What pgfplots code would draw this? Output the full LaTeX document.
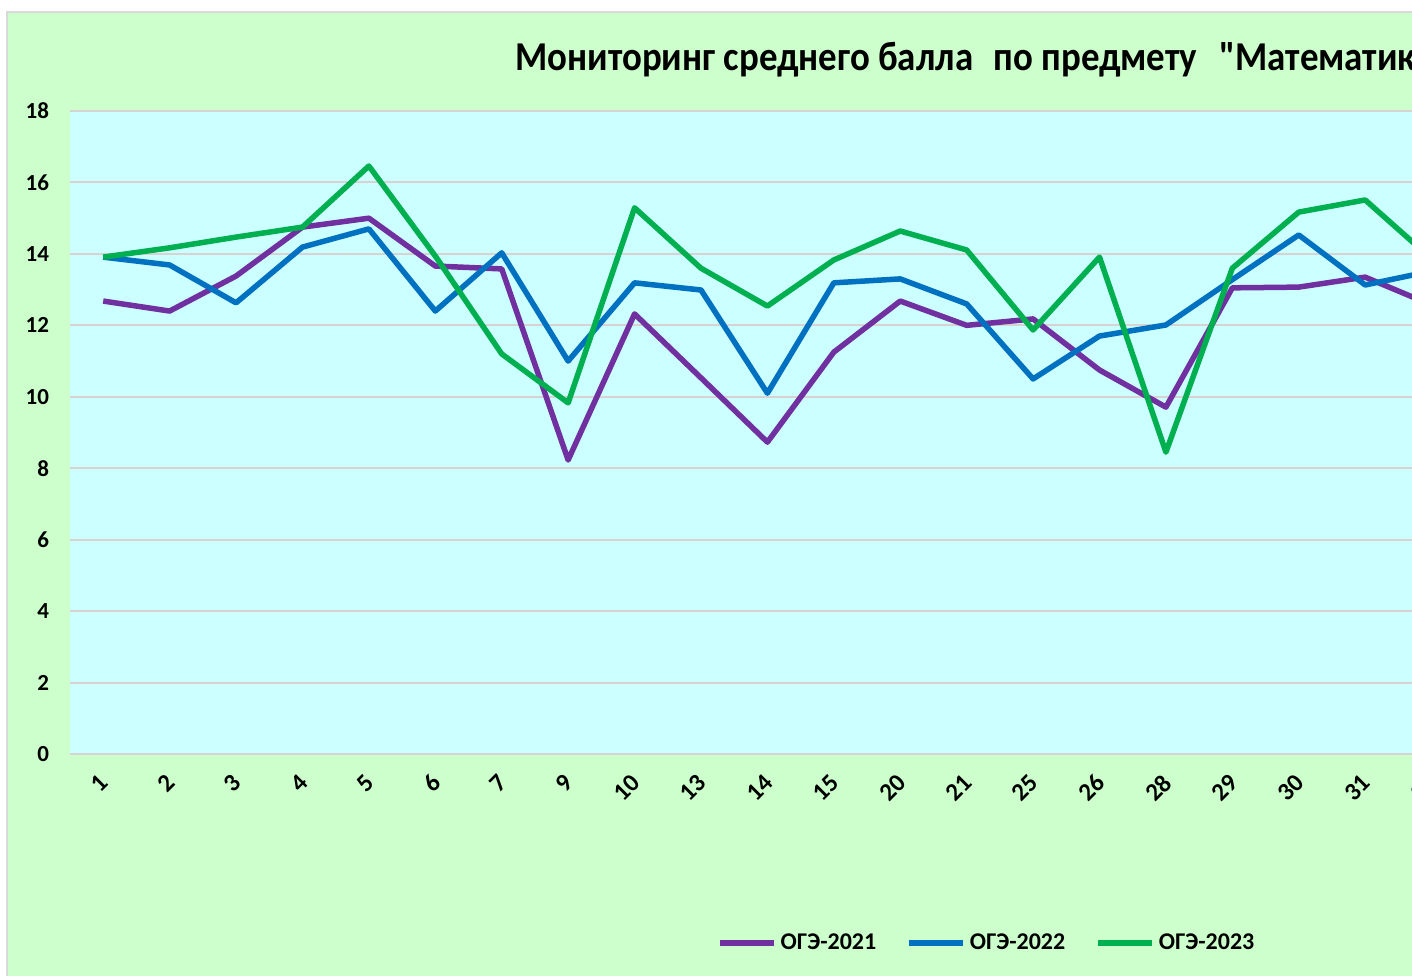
\documentclass[border=0pt]{standalone}
\usepackage{fontspec}
\setmainfont{Carlito}
\newfontfamily\titlefont{Carlito}
\usepackage{pgfplots}
\pgfplotsset{compat=1.18}
\definecolor{bggreen}{HTML}{CCFFCC}
\definecolor{plotcyan}{HTML}{CCFFFF}
\definecolor{gridc}{RGB}{217,210,210}
\definecolor{framegray}{RGB}{217,217,217}
\definecolor{ogeA}{HTML}{7030A0}
\definecolor{ogeB}{HTML}{0070C0}
\definecolor{ogeC}{HTML}{00B050}

\begin{document}
\begin{tikzpicture}
% 1 px of the reference = 0.5pt
\path[use as bounding box] (0,0) rectangle (706pt,-487.5pt);
\clip (0,0) rectangle (706pt,-487.5pt);
\fill[white] (0,0) rectangle (706pt,-487.5pt);
\filldraw[fill=bggreen, draw=framegray, line width=1pt] (3.5pt,-6pt) rectangle (720pt,-495pt);
\begin{axis}[
    at={(35pt,-377pt)}, anchor=south west,
    scale only axis, width=697.4pt, height=321.5pt,
    xmin=-0.5, xmax=20.5, ymin=0, ymax=18,
    axis background/.style={fill=plotcyan},
    axis line style={draw=none},
    tick style={draw=none},
    ymajorgrids=true,
    grid style={gridc, line width=1pt},
    ytick={0,2,...,18},
    xtick={0,...,20},
    xticklabels={1,2,3,4,5,6,7,9,10,13,14,15,20,21,25,26,28,29,30,31,32},
    /pgf/number format/assume math mode=true,
    tick label style={font=\bfseries\fontsize{11.5}{13}\selectfont},
    yticklabel style={anchor=east, xshift=-7pt},
    xticklabel style={font=\bfseries\fontsize{12.5}{14}\selectfont, yshift=-10pt, xshift=3pt, rotate=45, anchor=east},
    legend style={at={(0.658,-0.294)}, anchor=center, draw=none, fill=none,
        legend columns=3, font=\bfseries\fontsize{12}{14}\selectfont,
        /tikz/every even column/.append style={column sep=13pt},
        legend cell align=left, inner sep=0pt},
    legend image code/.code={\draw[#1] (0pt,0pt) -- (27pt,0pt);},
    every axis plot/.append style={line width=2.75pt, line join=round, mark=none},
]
\addplot[ogeA] coordinates {
(0,12.68) (1,12.40) (2,13.38) (3,14.75) (4,15.00) (5,13.66) (6,13.58)
(7,8.23) (8,12.32) (9,10.53) (10,8.73) (11,11.25) (12,12.68) (13,12.00)
(14,12.18) (15,10.75) (16,9.71) (17,13.05) (18,13.07) (19,13.35) (20,12.57)
};
\addlegendentry{ОГЭ-2021}
\addplot[ogeB] coordinates {
(0,13.91) (1,13.69) (2,12.63) (3,14.19) (4,14.70) (5,12.40) (6,14.03)
(7,11.00) (8,13.19) (9,12.99) (10,10.10) (11,13.19) (12,13.30) (13,12.60)
(14,10.50) (15,11.70) (16,12.01) (17,13.28) (18,14.53) (19,13.13) (20,13.52)
};
\addlegendentry{ОГЭ-2022}
\addplot[ogeC] coordinates {
(0,13.91) (1,14.17) (2,14.47) (3,14.75) (4,16.46) (5,13.94) (6,11.20)
(7,9.83) (8,15.29) (9,13.60) (10,12.54) (11,13.83) (12,14.64) (13,14.11)
(14,11.87) (15,13.91) (16,8.45) (17,13.60) (18,15.17) (19,15.51) (20,13.86)
};
\addlegendentry{ОГЭ-2023}
\end{axis}
\node[anchor=base west, inner sep=0pt, font=\titlefont\bfseries\fontsize{20.5}{24}\selectfont]
    at (257.5pt,-35pt) {\scalebox{0.9}[1]{Мониторинг среднего балла\ \ \hspace{0.1em}по предмету\ \ \hspace{0.15em}"Математика"}};
\end{tikzpicture}
\end{document}
